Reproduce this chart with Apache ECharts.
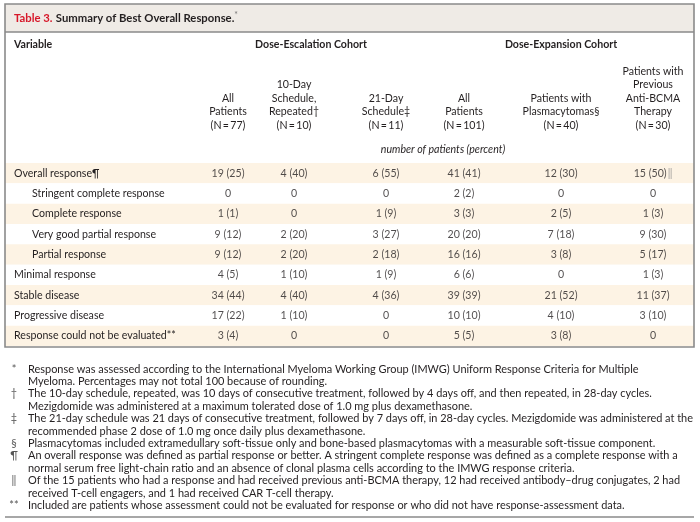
<!DOCTYPE html>
<html><head><meta charset="utf-8">
<script src="https://cdn.jsdelivr.net/npm/echarts@6/dist/echarts.min.js"></script>
<style>html,body{margin:0;padding:0;background:#fff}#c{width:700px;height:522px}</style>
</head><body><div id="c"></div>
<script>
// ---------- data ----------
const rowLabels = ['Overall response\u00b6','Stringent complete response','Complete response','Very good partial response','Partial response','Minimal response','Stable disease','Progressive disease','Response could not be evaluated**'];
const rowIndent = [0,1,1,1,1,0,0,0,0];
// [number of patients, percent] ; percent null when count is 0
const escAll    = [[19,25],[0,null],[1,1],[9,12],[9,12],[4,5],[34,44],[17,22],[3,4]];
const esc10     = [[4,40],[0,null],[0,null],[2,20],[2,20],[1,10],[4,40],[1,10],[0,null]];
const esc21     = [[6,55],[0,null],[1,9],[3,27],[2,18],[1,9],[4,36],[0,null],[0,null]];
const expAll    = [[41,41],[2,2],[3,3],[20,20],[16,16],[6,6],[39,39],[10,10],[5,5]];
const expPlasma = [[12,30],[0,null],[2,5],[7,18],[3,8],[0,null],[21,52],[4,10],[3,8]];
const expBcma   = [[15,50],[0,null],[1,3],[9,30],[5,17],[1,3],[11,37],[3,10],[0,null]];
const columns = [escAll, esc10, esc21, expAll, expPlasma, expBcma];
const cellNotes = {'5-0': '\u2016'};
const T = '\u2009';
const columnHeaders = [
  ['All','Patients','(N'+T+'='+T+'77)'],
  ['10-Day','Schedule,','Repeated\u2020','(N'+T+'='+T+'10)'],
  ['21-Day','Schedule\u2021','(N'+T+'='+T+'11)'],
  ['All','Patients','(N'+T+'='+T+'101)'],
  ['Patients with','Plasmacytomas\u00a7','(N'+T+'='+T+'40)'],
  ['Patients with','Previous','Anti-BCMA','Therapy','(N'+T+'='+T+'30)']
];
const groupHeaders = ['Dose-Escalation Cohort','Dose-Expansion Cohort'];
const unitsLabel = 'number of patients (percent)';
const titleNum = 'Table 3.';
const titleText = 'Summary of Best Overall Response.';
const footnotes = [
  ['*', ['Response was assessed according to the International Myeloma Working Group (IMWG) Uniform Response Criteria for Multiple','Myeloma. Percentages may not total 100 because of rounding.']],
  ['\u2020', ['The 10-day schedule, repeated, was 10 days of consecutive treatment, followed by 4 days off, and then repeated, in 28-day cycles.','Mezigdomide was administered at a maximum tolerated dose of 1.0 mg plus dexamethasone.']],
  ['\u2021', ['The 21-day schedule was 21 days of consecutive treatment, followed by 7 days off, in 28-day cycles. Mezigdomide was administered at the','recommended phase 2 dose of 1.0 mg once daily plus dexamethasone.']],
  ['\u00a7', ['Plasmacytomas included extramedullary soft-tissue only and bone-based plasmacytomas with a measurable soft-tissue component.']],
  ['\u00b6', ['An overall response was defined as partial response or better. A stringent complete response was defined as a complete response with a','normal serum free light-chain ratio and an absence of clonal plasma cells according to the IMWG response criteria.']],
  ['\u2016', ['Of the 15 patients who had a response and had received previous anti-BCMA therapy, 12 had received antibody\u2013drug conjugates, 2 had','received T-cell engagers, and 1 had received CAR T-cell therapy.']],
  ['**', ['Included are patients whose assessment could not be evaluated for response or who did not have response-assessment data.']]
];

// ---------- layout ----------
const FONT = 'Lato';
const FS = 10.6;
const FN = 10.95;
const TXT = '#231f20';
const boxL = 5, boxR = 694, boxT = 4, boxB = 347;
const bodyTop = 163, bodyH = 183;
const colCenters = [228, 294, 386, 464, 561, 653];
const groupCenters = [311, 561];

const chart = echarts.init(document.getElementById('c'), null, {renderer: 'canvas'});

function fmt(v){ return v[1] == null ? String(v[0]) : v[0] + ' (' + v[1] + ')'; }

const series = columns.map((col, c) => ({
  type: 'scatter',
  symbolSize: 1,
  itemStyle: {color: 'rgba(0,0,0,0)'},
  silent: true,
  data: col.map((v, r) => ({value: [colCenters[c] - boxL, r], raw: v, note: cellNotes[c + '-' + r] || ''})),
  label: {
    show: true, position: 'inside', color: TXT, fontFamily: FONT, fontSize: FS,
    formatter: p => p.data.note ? fmt(p.data.raw) + '{n|' + p.data.note + '}' : fmt(p.data.raw),
    rich: {n: {color: '#888', fontFamily: FONT, fontSize: FS, padding: [0, 0, 0, 1]}}
  }
}));

const graphic = [];
graphic.push({type: 'rect', shape: {x: boxL, y: boxT, width: boxR - boxL, height: 28}, style: {fill: '#efebe6'}, z: -10});
graphic.push({type: 'line', shape: {x1: boxL, y1: boxT + 28, x2: boxR, y2: boxT + 28}, style: {stroke: '#8a8a8a', lineWidth: 1.5}});
graphic.push({type: 'rect', shape: {x: boxL, y: boxT, width: boxR - boxL, height: boxB - boxT}, style: {fill: null, stroke: '#8a8a8a', lineWidth: 1.6}, z: 100});
graphic.push({type: 'text', x: 14, y: 18, style: {
  text: '{r|' + titleNum + '} {b|' + titleText + '}{s|*}', verticalAlign: 'middle',
  rich: {
    r: {fill: '#d7182a', fontFamily: FONT, fontWeight: 'bold', fontSize: 11.3},
    b: {fill: TXT, fontFamily: FONT, fontWeight: 'bold', fontSize: 11.3},
    s: {fill: '#777', fontFamily: FONT, fontSize: 8.5, verticalAlign: 'top', padding: [0,0,6,0]}
  }}});
graphic.push({type: 'text', x: 14, y: 45, style: {text: 'Variable', fill: TXT, fontFamily: FONT, fontWeight: 'bold', fontSize: FS, verticalAlign: 'middle'}});
groupHeaders.forEach((g, i) => graphic.push({type: 'text', x: groupCenters[i], y: 45, style: {text: g, fill: TXT, fontFamily: FONT, fontWeight: 'bold', fontSize: FS, align: 'center', verticalAlign: 'middle'}}));
columnHeaders.forEach((h, i) => graphic.push({type: 'text', x: colCenters[i], y: 132, style: {text: h.join('\n'), fill: TXT, fontFamily: FONT, fontSize: FS, align: 'center', verticalAlign: 'bottom', lineHeight: 13.5}}));
graphic.push({type: 'text', x: 443, y: 150, style: {text: unitsLabel, fill: TXT, fontFamily: FONT, fontStyle: 'italic', fontSize: FS, align: 'center', verticalAlign: 'middle'}});
let ly = 369;
footnotes.forEach(([sym, lines]) => {
  graphic.push({type: 'text', x: 14, y: ly, style: {text: sym, fill: '#555', fontFamily: FONT, fontSize: FN, align: 'center', verticalAlign: 'middle'}});
  lines.forEach(t => {
    graphic.push({type: 'text', x: 28, y: ly, style: {text: t, fill: TXT, fontFamily: FONT, fontSize: FN, verticalAlign: 'middle'}});
    ly += 12.4;
  });
});
graphic.push({type: 'line', shape: {x1: boxL, y1: 517, x2: boxR, y2: 517}, style: {stroke: '#8a8a8a', lineWidth: 1.6}});

chart.setOption({
  animation: false,
  backgroundColor: '#ffffff',
  grid: {left: boxL, top: bodyTop, width: boxR - boxL, height: bodyH, containLabel: false},
  xAxis: {type: 'value', min: 0, max: boxR - boxL, show: false},
  yAxis: {
    type: 'category', inverse: true, data: rowLabels,
    axisLine: {show: false}, axisTick: {show: false}, splitLine: {show: false},
    splitArea: {show: true, interval: 0, areaStyle: {color: ['#fdf3e4', '#ffffff']}},
    axisLabel: {
      inside: true, margin: 9, interval: 0, color: TXT, fontFamily: FONT, fontSize: FS,
      formatter: (v, i) => rowIndent[i] ? '{i|' + v + '}' : '{t|' + v + '}',
      rich: {t: {fontFamily: FONT, fontSize: FS, color: TXT}, i: {fontFamily: FONT, fontSize: FS, color: TXT, padding: [0, 0, 0, 18]}}
    }
  },
  series: series,
  graphic: graphic
});
</script></body></html>
